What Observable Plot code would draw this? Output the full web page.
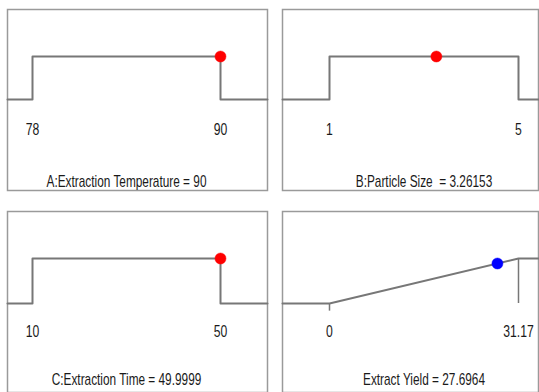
<!DOCTYPE html>
<html>
<head>
<meta charset="utf-8">
<script src="https://cdn.jsdelivr.net/npm/d3@7"></script>
<script src="https://cdn.jsdelivr.net/npm/@observablehq/plot@0.6"></script>
<style>
  html, body { margin: 0; padding: 0; background: #fff; }
  #root { position: relative; width: 539px; height: 392px; overflow: hidden; background: #fff; }
  #root > div { position: absolute; }
  #root svg { overflow: visible; }
</style>
</head>
<body>
<div id="root"></div>
<script>
// ---- data ----
const names = ["A:Extraction Temperature", "B:Particle Size ", "C:Extraction Time", "Extract Yield"];
const lows = [78, 1, 10, 0];
const highs = [90, 5, 50, 31.17];
const lowLabels = ["78", "1", "10", "0"];
const highLabels = ["90", "5", "50", "31.17"];
const currentValues = [90, 3.26153, 49.9999, 27.6964];
const currentText = ["90", "3.26153", "49.9999", "27.6964"];
const dotLevels = [1, 1, 1, 0.8886];   // desirability level of the marker
const kinds = ["factor", "factor", "factor", "response"];
const dotColors = ["#ff0000", "#ff0000", "#ff0000", "#0000ff"];

// ---- layout (panel boxes, pixels) ----
const boxes = [
  {left: 7, top: 9, w: 260, h: 181, xr: [25, 213], yr: [90, 47], labDy: 114, titDy: 166},
  {left: 282, top: 9, w: 256, h: 181, xr: [47, 236], yr: [90, 47], labDy: 114, titDy: 166},
  {left: 7, top: 211, w: 260, h: 181, xr: [25, 213], yr: [92, 47], labDy: 114, titDy: 162},
  {left: 282, top: 211, w: 256, h: 181, xr: [47, 236], yr: [92, 47], labDy: 114, titDy: 162}
];

const FONT = "'Liberation Sans', Arial, sans-serif";
const LINE = "#777777";
const SQUEEZE = 0.74;
const root = document.getElementById("root");

names.forEach((name, i) => {
  const b = boxes[i];
  const lo = lows[i], hi = highs[i];
  // extend the domain so that it reaches the panel edges (derived from the layout)
  const s = d3.scaleLinear().domain([lo, hi]).range(b.xr);
  const xL = s.invert(0), xR = s.invert(b.w);
  const marks = [
    Plot.frame({stroke: "#9a9a9a", strokeWidth: 1.5})
  ];
  if (kinds[i] === "factor") {
    marks.push(
      Plot.line([{x: xL, y: 0}, {x: lo, y: 0}, {x: lo, y: 1}, {x: hi, y: 1}, {x: hi, y: 0}, {x: xR, y: 0}],
        {x: "x", y: "y", stroke: LINE, strokeWidth: 2})
    );
  } else {
    marks.push(
      Plot.line([{x: xL, y: 0}, {x: lo, y: 0}, {x: hi, y: 1}, {x: xR, y: 1}],
        {x: "x", y: "y", stroke: LINE, strokeWidth: 2}),
      Plot.ruleX([lo], {y1: 0, y2: -0.17, stroke: LINE, strokeWidth: 1.5}),
      Plot.ruleX([hi], {y1: 0, y2: 1, stroke: LINE, strokeWidth: 1.5})
    );
  }
  marks.push(
    Plot.dot([{x: currentValues[i], y: dotLevels[i]}],
      {x: "x", y: "y", r: 5.5, fill: dotColors[i], stroke: dotColors[i], strokeWidth: 0.5}),
    Plot.text([{x: lo, t: lowLabels[i]}, {x: hi, t: highLabels[i]}],
      {x: "x", text: "t", frameAnchor: "top", dy: b.labDy, fontSize: 16.5, fill: "#1a1a1a"}),
    Plot.text([{x: (lo + hi) / 2, t: name + " = " + currentText[i]}],
      {x: "x", text: "t", frameAnchor: "top", dy: b.titDy, fontSize: 16, fill: "#1a1a1a"})
  );
  const chart = Plot.plot({
    width: b.w,
    height: b.h,
    margin: 0,
    style: {fontFamily: FONT, background: "transparent", overflow: "visible"},
    x: {domain: [xL, xR], range: [0, b.w], axis: null},
    y: {domain: [0, 1], range: b.yr, axis: null},
    marks
  });
  // narrow the glyphs horizontally, keeping each text centred where Plot put it
  chart.querySelectorAll("text").forEach((t) => {
    const tr = t.getAttribute("transform") || "";
    t.setAttribute("transform", tr + ` scale(${SQUEEZE},1)`);
  });
  const holder = document.createElement("div");
  holder.style.left = b.left + "px";
  holder.style.top = b.top + "px";
  holder.appendChild(chart);
  root.appendChild(holder);
});
</script>
</body>
</html>
